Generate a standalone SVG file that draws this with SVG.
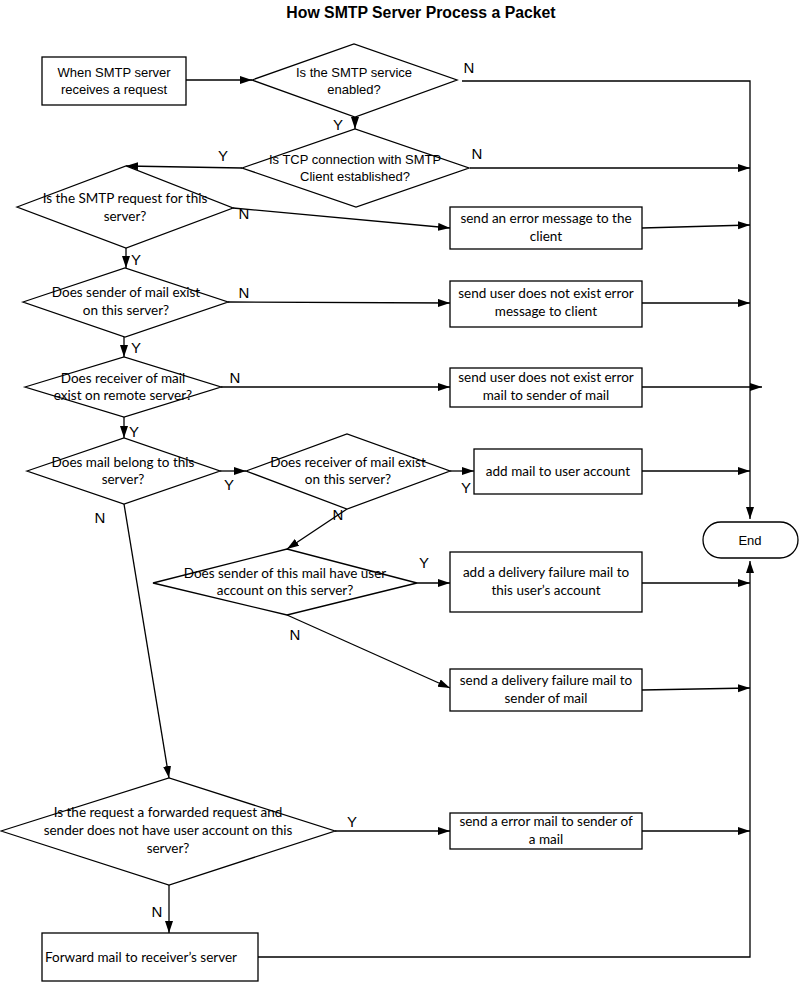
<svg xmlns="http://www.w3.org/2000/svg" width="799" height="982" viewBox="0 0 799 982">
<style>
.s{fill:#fff;stroke:#000;stroke-width:1.3}
.c{fill:none;stroke:#000;stroke-width:1.3}
.a{font-family:"Liberation Sans",Arial,sans-serif;font-size:13px;fill:#000;text-anchor:middle}
.b{font-family:Lato,"Liberation Sans",sans-serif;font-size:13.5px;fill:#000;text-anchor:middle}
.l{font-family:"Liberation Sans",Arial,sans-serif;font-size:15px;fill:#000;text-anchor:middle}
.t{font-family:"Liberation Sans",Arial,sans-serif;font-size:15.8px;font-weight:bold;fill:#000;text-anchor:middle}
</style>
<defs>
<marker id="ar" markerUnits="userSpaceOnUse" markerWidth="14" markerHeight="10" refX="12" refY="4" orient="auto">
<path d="M0,0 L12,4 L0,8 Z" fill="#000"/>
</marker>
</defs>
<rect width="799" height="982" fill="#fff"/>
<text class="t" x="421" y="18">How SMTP Server Process a Packet</text>

<g id="connectors">
<line class="c" x1="186" y1="80" x2="252" y2="80" marker-end="url(#ar)"/>
<polyline class="c" points="462,81 750,81 750,519" marker-end="url(#ar)"/>
<line class="c" x1="355" y1="117" x2="355" y2="129" marker-end="url(#ar)"/>
<line class="c" x1="470" y1="168" x2="750" y2="168" marker-end="url(#ar)"/>
<line class="c" x1="242" y1="168" x2="126" y2="166" marker-end="url(#ar)"/>
<line class="c" x1="233" y1="208" x2="450" y2="228" marker-end="url(#ar)"/>
<line class="c" x1="642" y1="228" x2="750" y2="225" marker-end="url(#ar)"/>
<line class="c" x1="126" y1="248" x2="126" y2="268" marker-end="url(#ar)"/>
<line class="c" x1="228" y1="302" x2="450" y2="303" marker-end="url(#ar)"/>
<line class="c" x1="642" y1="303" x2="750" y2="303" marker-end="url(#ar)"/>
<line class="c" x1="124" y1="337" x2="124" y2="357" marker-end="url(#ar)"/>
<line class="c" x1="221" y1="387" x2="450" y2="387" marker-end="url(#ar)"/>
<line class="c" x1="642" y1="387" x2="762" y2="387" marker-end="url(#ar)"/>
<line class="c" x1="124" y1="417" x2="124" y2="438" marker-end="url(#ar)"/>
<line class="c" x1="220" y1="471" x2="246" y2="471" marker-end="url(#ar)"/>
<line class="c" x1="450" y1="471" x2="474" y2="471" marker-end="url(#ar)"/>
<line class="c" x1="642" y1="471" x2="750" y2="471" marker-end="url(#ar)"/>
<line class="c" x1="347" y1="509" x2="287" y2="549" marker-end="url(#ar)"/>
<line class="c" x1="417" y1="583" x2="450" y2="583" marker-end="url(#ar)"/>
<line class="c" x1="642" y1="583" x2="750" y2="583" marker-end="url(#ar)"/>
<line class="c" x1="287" y1="615" x2="450" y2="688" marker-end="url(#ar)"/>
<line class="c" x1="642" y1="690" x2="750" y2="688" marker-end="url(#ar)"/>
<line class="c" x1="124" y1="504" x2="169" y2="778" marker-end="url(#ar)"/>
<line class="c" x1="335" y1="831" x2="450" y2="831" marker-end="url(#ar)"/>
<line class="c" x1="642" y1="831" x2="750" y2="831" marker-end="url(#ar)"/>
<line class="c" x1="169" y1="885" x2="169" y2="933" marker-end="url(#ar)"/>
<polyline class="c" points="258,957 750,957 750,561" marker-end="url(#ar)"/>

<text class="l" x="469" y="73">N</text>
<text class="l" x="338" y="130">Y</text>
<text class="l" x="477" y="159">N</text>
<text class="l" x="223" y="161">Y</text>
<text class="l" x="244" y="219">N</text>
<text class="l" x="136" y="265">Y</text>
<text class="l" x="244" y="298">N</text>
<text class="l" x="136" y="353">Y</text>
<text class="l" x="235" y="383">N</text>
<text class="l" x="134" y="437">Y</text>
<text class="l" x="229" y="490">Y</text>
<text class="l" x="466" y="493">Y</text>
<text class="l" x="100" y="523">N</text>
<text class="l" x="338" y="520">N</text>
<text class="l" x="424" y="568">Y</text>
<text class="l" x="295" y="640">N</text>
<text class="l" x="352" y="827">Y</text>
<text class="l" x="157" y="917">N</text>
</g>

<g id="start">
<rect class="s" x="42" y="57" width="144" height="48"/>
<text class="a" x="114" y="77">When SMTP server</text>
<text class="a" x="114" y="94">receives a request</text>
</g>
<g id="d1">
<polygon class="s" points="252,80 354,44 457,80 355,117"/>
<text class="a" x="354" y="77">Is the SMTP service</text>
<text class="a" x="354" y="94">enabled?</text>
</g>
<g id="d2">
<polygon class="s" points="242,168 355,129 469,168 356,207"/>
<text class="a" x="355" y="164">Is TCP connection with SMTP</text>
<text class="a" x="355" y="181">Client established?</text>
</g>
<g id="d3">
<polygon class="s" points="17,207 126,166 233,208 126,248"/>
<text class="b" x="125" y="203">Is the SMTP request for this</text>
<text class="b" x="125" y="221">server?</text>
</g>
<g id="box1">
<rect class="s" x="450" y="207" width="192" height="42"/>
<text class="b" x="546" y="223">send an error message to the</text>
<text class="b" x="546" y="241">client</text>
</g>
<g id="d4">
<polygon class="s" points="23,302 125,268 228,302 125,337"/>
<text class="b" x="126" y="297">Does sender of mail exist</text>
<text class="b" x="126" y="315">on this server?</text>
</g>
<g id="box2">
<rect class="s" x="450" y="281" width="192" height="46"/>
<text class="b" x="546" y="298">send user does not exist error</text>
<text class="b" x="546" y="316">message to client</text>
</g>
<g id="d5">
<polygon class="s" points="25,387 124,357 221,387 124,417"/>
<text class="b" x="123" y="383">Does receiver of mail</text>
<text class="b" x="123" y="400">exist on remote server?</text>
</g>
<g id="box3">
<rect class="s" x="450" y="368" width="192" height="39"/>
<text class="b" x="546" y="382">send user does not exist error</text>
<text class="b" x="546" y="400">mail to sender of mail</text>
</g>
<g id="d6">
<polygon class="s" points="27,471 124,438 220,471 124,504"/>
<text class="b" x="123" y="467">Does mail belong to this</text>
<text class="b" x="123" y="484">server?</text>
</g>
<g id="d7">
<polygon class="s" points="246,471 347,434 450,471 347,509"/>
<text class="b" x="348" y="467">Does receiver of mail exist</text>
<text class="b" x="348" y="484">on this server?</text>
</g>
<g id="box4">
<rect class="s" x="474" y="449" width="168" height="45"/>
<text class="b" x="558" y="476">add mail to user account</text>
</g>
<g id="d8">
<polygon class="s" points="153,583 287,549 417,583 287,615"/>
<text class="b" x="285" y="578">Does sender of this mail have user</text>
<text class="b" x="285" y="595">account on this server?</text>
</g>
<g id="box5">
<rect class="s" x="450" y="552" width="192" height="60"/>
<text class="b" x="546" y="577">add a delivery failure mail to</text>
<text class="b" x="546" y="595">this user’s account</text>
</g>
<g id="box6">
<rect class="s" x="450" y="669" width="192" height="42"/>
<text class="b" x="546" y="685">send a delivery failure mail to</text>
<text class="b" x="546" y="703">sender of mail</text>
</g>
<g id="end">
<rect class="s" x="703" y="522" width="95" height="36" rx="18" ry="18"/>
<text class="a" x="750" y="545">End</text>
</g>
<g id="d9">
<polygon class="s" points="1,831 169,778 335,831 169,885"/>
<text class="b" x="168" y="817">Is the request a forwarded request and</text>
<text class="b" x="168" y="835">sender does not have user account on this</text>
<text class="b" x="168" y="853">server?</text>
</g>
<g id="box7">
<rect class="s" x="450" y="813" width="192" height="36"/>
<text class="b" x="546" y="826">send a error mail to sender of</text>
<text class="b" x="546" y="844">a mail</text>
</g>
<g id="forward">
<rect class="s" x="42" y="933" width="216" height="48"/>
<text class="b" x="45" y="962" style="text-anchor:start">Forward mail to receiver’s server</text>
</g>
</svg>
